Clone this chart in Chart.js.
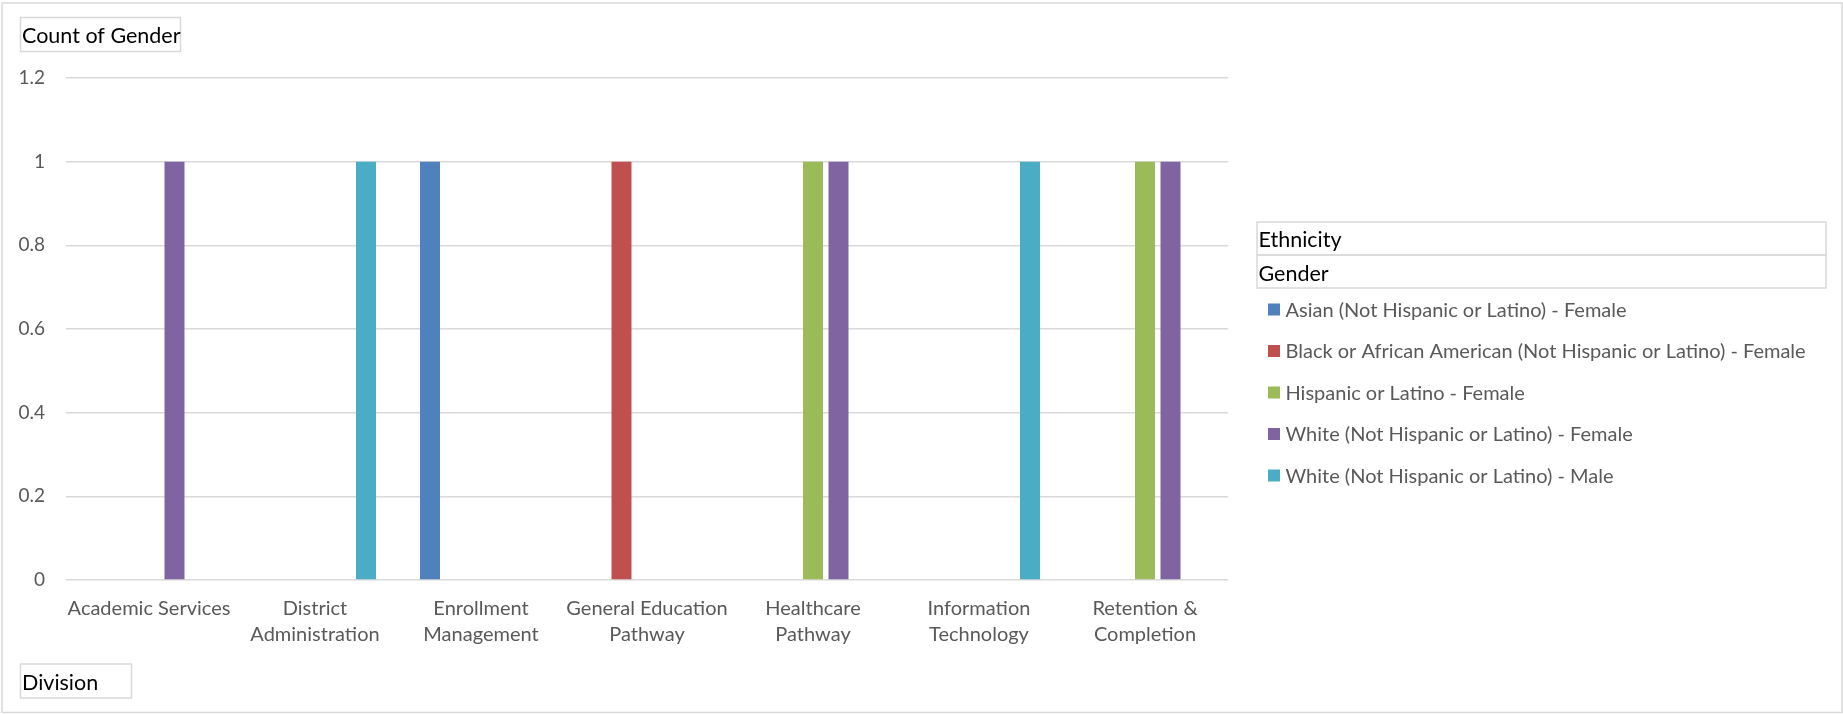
<!DOCTYPE html>
<html>
<head>
<meta charset="utf-8">
<script src="https://cdn.jsdelivr.net/npm/chart.js@4.4.1/dist/chart.umd.min.js"></script>
<style>
  html, body { margin: 0; padding: 0; background: #fff; }
</style>
</head>
<body>
<canvas id="chart" width="1843" height="714"></canvas>
<script>
// Divisions on the x axis (multi-line labels as arrays)
const divisions = [
  'Academic Services',
  ['District', 'Administration'],
  ['Enrollment', 'Management'],
  ['General Education', 'Pathway'],
  ['Healthcare', 'Pathway'],
  ['Information', 'Technology'],
  ['Retention &', 'Completion']
];

// Count of Gender per ethnicity/gender pair (blank cells = null)
const asianFemale    = [null, null, 1, null, null, null, null];
const blackFemale    = [null, null, null, 1, null, null, null];
const hispanicFemale = [null, null, null, null, 1, null, 1];
const whiteFemale    = [1, null, null, null, 1, null, 1];
const whiteMale      = [null, 1, null, null, null, 1, null];

const seriesLabels = [
  'Asian (Not Hispanic or Latino) - Female',
  'Black or African American (Not Hispanic or Latino) - Female',
  'Hispanic or Latino - Female',
  'White (Not Hispanic or Latino) - Female',
  'White (Not Hispanic or Latino) - Male'
];
const seriesColors = ['#4f81bd', '#c0504d', '#9bbb59', '#8064a2', '#4bacc6'];
const yTicks = [0, 0.2, 0.4, 0.6, 0.8, 1, 1.2];

const FONT = 'Lato, "Liberation Sans", sans-serif';
const GRID = '#d9d9d9';
const TEXT = '#595959';

// Pivot chart field buttons, outer frame and the legend on the right
const pivotDecor = {
  id: 'pivotDecor',
  beforeDraw(chart) {
    const ctx = chart.ctx;
    ctx.save();
    ctx.fillStyle = '#fff';
    ctx.fillRect(0, 0, chart.width, chart.height);
    ctx.restore();
  },
  afterDraw(chart) {
    const ctx = chart.ctx;
    ctx.save();
    ctx.strokeStyle = GRID;
    ctx.lineWidth = 1.5;
    ctx.strokeRect(2, 3, 1840, 709.5);

    // field buttons
    ctx.font = '21.5px ' + FONT;
    ctx.fillStyle = '#000';
    ctx.textBaseline = 'alphabetic';
    ctx.strokeRect(20.5, 17.5, 160, 34);
    ctx.fillText('Count of Gender', 22, 43);
    ctx.strokeRect(20.5, 664, 111, 34);
    ctx.fillText('Division', 22, 690);
    ctx.strokeRect(1257, 222, 569, 33);
    ctx.strokeRect(1257, 255, 569, 33);
    ctx.fillText('Ethnicity', 1258.5, 247);
    ctx.fillText('Gender', 1258.5, 280.5);

    // legend entries
    ctx.font = '20px ' + FONT;
    chart.data.datasets.forEach((ds, i) => {
      const cy = 309.5 + i * 41.5;
      ctx.fillStyle = ds.backgroundColor;
      ctx.fillRect(1268, cy - 6, 12, 12);
      ctx.fillStyle = TEXT;
      ctx.fillText(ds.label, 1285.5, cy + 7);
    });
    ctx.restore();
  }
};

const datasets = [asianFemale, blackFemale, hispanicFemale, whiteFemale, whiteMale].map((values, i) => ({
  label: seriesLabels[i],
  data: values,
  backgroundColor: seriesColors[i],
  borderWidth: 0,
  categoryPercentage: 0.768,
  barPercentage: 0.784
}));

const ctx = document.getElementById('chart').getContext('2d');
const chart = new Chart(ctx, {
  type: 'bar',
  data: {
    labels: divisions,
    datasets: datasets
  },
  options: {
    responsive: false,
    animation: false,
    devicePixelRatio: 1,
    layout: {
      padding: { left: 10, top: 78, right: 615, bottom: 34 }
    },
    plugins: {
      legend: { display: false },
      tooltip: { enabled: false }
    },
    scales: {
      x: {
        grid: { display: false },
        border: { display: false },
        ticks: {
          color: TEXT,
          font: { family: FONT, size: 20, lineHeight: 1.3 },
          padding: 8,
          maxRotation: 0,
          autoSkip: false
        },
        afterFit(scale) { scale.height = 100; }
      },
      y: {
        min: 0,
        max: 1.2,
        afterBuildTicks(scale) {
          scale.ticks = yTicks.map(v => ({ value: v }));
        },
        grid: { color: GRID, lineWidth: 1.5, drawTicks: false },
        border: { display: false },
        ticks: {
          color: TEXT,
          font: { family: FONT, size: 19 },
          padding: 21,
          callback: v => String(v)
        },
        afterFit(scale) { scale.width = 56; }
      }
    }
  },
  plugins: [pivotDecor]
});
</script>
</body>
</html>
